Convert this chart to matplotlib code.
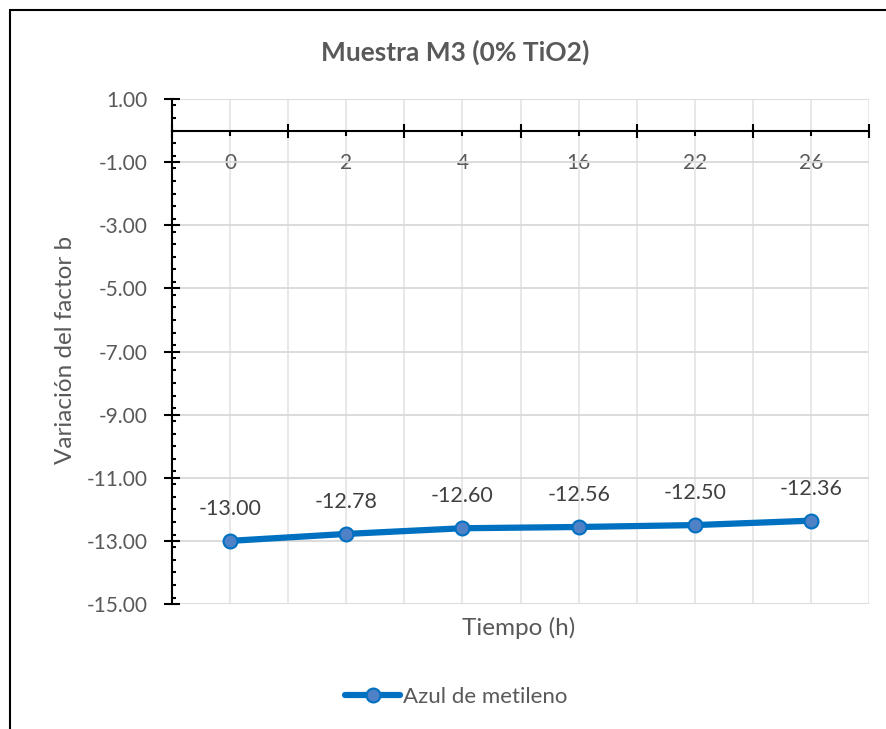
import matplotlib.pyplot as plt
from matplotlib.patches import Rectangle
from matplotlib.ticker import MultipleLocator, FixedLocator, NullFormatter

tiempos = ["0", "2", "4", "16", "22", "26"]
factor_b = [-13.00, -12.78, -12.60, -12.56, -12.50, -12.36]
serie = "Azul de metileno"

gris = "#595959"
azul = "#0070C0"

plt.rcParams['font.family'] = ['Lato', 'DejaVu Sans']

fig = plt.figure(figsize=(8.86, 7.29), dpi=100)
ax = fig.add_axes([172 / 886, 1 - 604 / 729, (869 - 172) / 886, (604 - 99) / 729])

x = list(range(len(tiempos)))
ax.plot(x, factor_b, color=azul, lw=4.5, marker="o", ms=10,
        mfc="#4F81C7", mec=azul, mew=1.5, label=serie, zorder=5,
        solid_capstyle="round")

for xi, v in zip(x, factor_b):
    ax.annotate("{:.2f}".format(v), (xi, v), xytext=(0, 23),
                textcoords="offset points", ha="center", va="center",
                fontsize=15.5, color="#404040")

ax.set_xlim(-0.5, len(tiempos) - 0.5)
ax.set_ylim(-15, 1)

# y axis: major every 2 from 1, minor every 0.4
ax.yaxis.set_major_locator(FixedLocator([1 - 2 * i for i in range(9)]))
ax.yaxis.set_minor_locator(MultipleLocator(0.4))
ax.yaxis.set_major_formatter(lambda v, p: "{:.2f}".format(v))
ax.tick_params(axis="y", which="major", direction="inout", length=11,
               width=1.5, color="black", labelsize=15, labelcolor=gris, pad=12)
ax.tick_params(axis="y", which="minor", direction="in", length=3,
               width=1.5, color="black")

# x axis sits at y = 0, labels under category centres
ax.spines["bottom"].set_position(("data", 0))
ax.xaxis.set_major_locator(FixedLocator([i - 0.5 for i in range(len(tiempos) + 1)]))
ax.xaxis.set_major_formatter(NullFormatter())
ax.xaxis.set_minor_locator(FixedLocator(x))
ax.set_xticklabels(tiempos, minor=True)
ax.tick_params(axis="x", which="major", direction="inout", length=10,
               width=1.5, color="black")
ax.tick_params(axis="x", which="minor", direction="out", length=3.5,
               width=1.5, color="black", labelsize=15, labelcolor=gris, pad=13)

for s in ["top", "right"]:
    ax.spines[s].set_visible(False)
ax.spines["left"].set_linewidth(1.5)
ax.spines["bottom"].set_linewidth(1.5)

# light grid at every half category and every major y tick
for gx in [i * 0.5 - 0.5 for i in range(2 * len(tiempos) + 1)][1:]:
    ax.axvline(gx, color="#E6E6E6", lw=1.3, zorder=0)
ax.grid(axis="y", which="major", color="#D9D9D9", lw=1.3, zorder=0)
ax.set_axisbelow(True)

fig.text(455 / 886, 1 - 52 / 729, "Muestra M3 (0% TiO2)", ha="center",
         va="center", fontsize=19, fontweight="bold", color=gris)
fig.text(519 / 886, 1 - 628 / 729, "Tiempo (h)", ha="center", va="center",
         fontsize=17.5, color=gris)
fig.text(65 / 886, 1 - 350 / 729, "Variación del factor b", ha="center",
         va="center", rotation=90, fontsize=17.5, color=gris)

fig.legend(loc="center", bbox_to_anchor=(456 / 886, 1 - 697 / 729),
           frameon=False, fontsize=16, labelcolor=gris, handlelength=2.5,
           handletextpad=0.1)

fig.patches.append(Rectangle((9.5 / 886, -0.05), 1.1, 1 - 9.5 / 729 + 0.05,
                             transform=fig.transFigure, fill=False,
                             ec="black", lw=1.5))

fig.savefig("out.png", dpi=100)
